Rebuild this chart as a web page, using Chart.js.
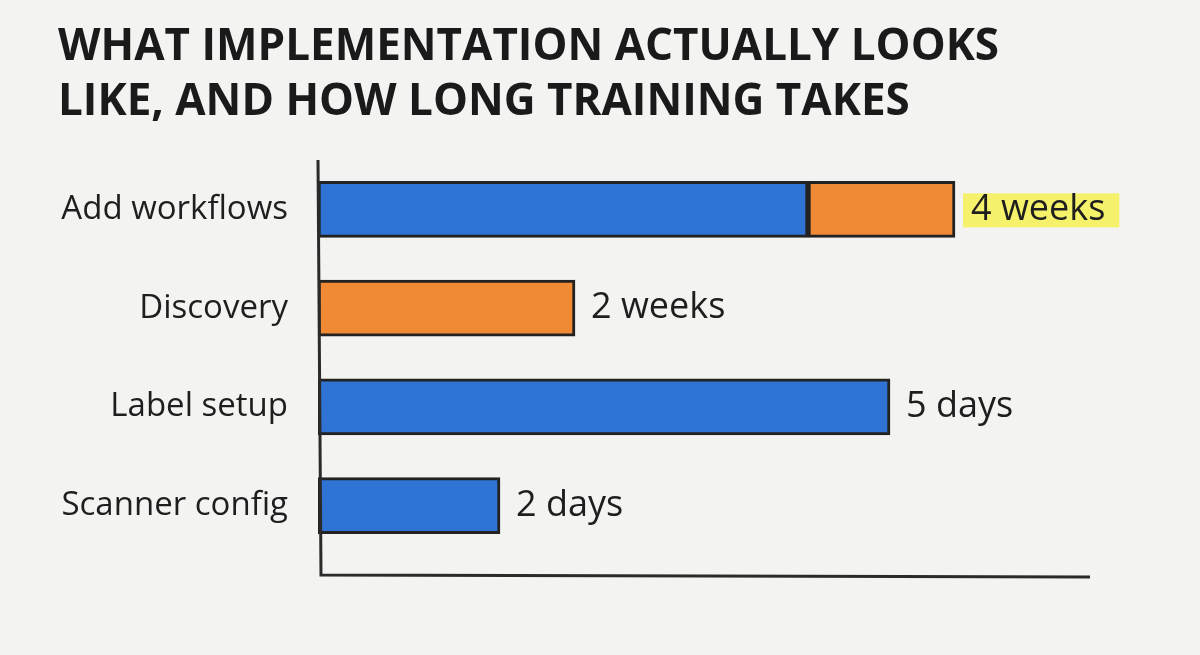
<!DOCTYPE html>
<html><head><meta charset="utf-8">
<script src="https://cdn.jsdelivr.net/npm/chart.js@4"></script>
<style>html,body{margin:0;padding:0;background:#f3f3f1;}#c{display:block;}</style>
</head><body>
<div style="width:1200px;height:655px"><canvas id="c" width="1200" height="655"></canvas></div>
<script>
const categories = ["Add workflows", "Discovery", "Label setup", "Scanner config"];
const blueValues = [490, 0, 572, 182];
const orangeValues = [147, 257, 0, 0];
const durationLabels = ["4 weeks", "2 weeks", "5 days", "2 days"];
const axisMax = 772;

const endLabels = {
  id: 'endLabels',
  afterDatasetsDraw(chart) {
    const ctx = chart.ctx;
    const x = chart.scales.x, y = chart.scales.y;
    ctx.save();
    ctx.font = '36px "Open Sans", sans-serif';
    ctx.textBaseline = 'middle';
    categories.forEach((c, i) => {
      const end = x.getPixelForValue(blueValues[i] + orangeValues[i]);
      const cy = y.getPixelForValue(i);
      const tx = end + 16;
      if (i === 0) {
        const w = ctx.measureText(durationLabels[i]).width;
        ctx.fillStyle = 'rgba(245,240,60,0.75)';
        ctx.fillRect(tx - 8, cy - 16, w + 22, 34);
      }
      ctx.fillStyle = '#1e1e1e';
      ctx.fillText(durationLabels[i], tx, cy);
    });
    const a = chart.chartArea;
    ctx.strokeStyle = '#2a2a2a';
    ctx.lineWidth = 3;
    ctx.beginPath();
    ctx.moveTo(a.left, a.top);
    ctx.lineTo(a.left + 3, a.bottom + 20);
    ctx.lineTo(a.right, a.bottom + 22);
    ctx.stroke();
    ctx.restore();
  }
};

new Chart(document.getElementById('c'), {
  type: 'bar',
  data: {
    labels: categories,
    datasets: [
      { data: blueValues, backgroundColor: '#2f74d4', borderColor: '#222', borderWidth: 3, borderSkipped: false, barThickness: 56 },
      { data: orangeValues, backgroundColor: '#f08a34', borderColor: '#222', borderWidth: 3, borderSkipped: false, barThickness: 56 }
    ]
  },
  options: {
    indexAxis: 'y',
    responsive: false,
    animation: false,
    layout: { padding: { left: 58, right: 110, bottom: 100 } },
    plugins: {
      legend: { display: false },
      tooltip: { enabled: false },
      title: {
        display: true,
        text: ['WHAT IMPLEMENTATION ACTUALLY LOOKS', 'LIKE, AND HOW LONG TRAINING TAKES'],
        align: 'start',
        color: '#1a1a1a',
        font: { family: '"Open Sans", sans-serif', size: 44, weight: 'bold', lineHeight: 1.25 },
        padding: { top: 20, bottom: 30 }
      }
    },
    scales: {
      x: { stacked: true, min: 0, max: axisMax, display: false, grid: { display: false } },
      y: {
        stacked: true,
        grid: { display: false },
        border: { display: false },
        afterFit(s) { s.width = 260; },
        ticks: { color: '#1e1e1e', padding: 22, font: { family: '"Open Sans", sans-serif', size: 33 } }
      }
    }
  },
  plugins: [endLabels]
});
</script>
</body></html>
